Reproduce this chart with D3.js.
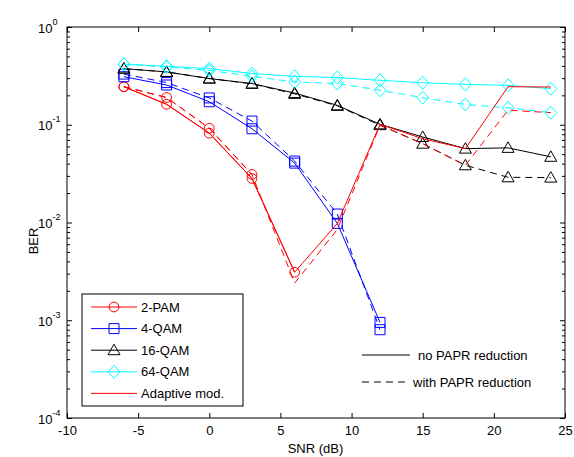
<!DOCTYPE html>
<html>
<head>
<meta charset="utf-8">
<script src="https://cdn.jsdelivr.net/npm/d3@7"></script>
<style>
  body { margin: 0; background: #fff; }
  svg { font-family: "Liberation Sans", Arial, sans-serif; }
</style>
</head>
<body>
<div id="chart"></div>
<script>
// SNR points (dB)
var snr = [-6, -3, 0, 3, 6, 9, 12, 15, 18, 21, 24];

// BER values, solid = no PAPR reduction, dashed = with
var pam2Solid  = [0.245, 0.162, 0.082, 0.0282, 0.0031];
var pam2Dashed = [0.245, 0.19, 0.092, 0.031];
var qam4Solid  = [0.31, 0.255, 0.172, 0.091, 0.0405, 0.0098, 0.00095];
var qam4Dashed = [0.33, 0.27, 0.188, 0.109, 0.0425, 0.0122, 0.0008];
var qam16Solid  = [0.375, 0.347, 0.297, 0.264, 0.211, 0.158, 0.101, 0.075, 0.057, 0.058, 0.047];
var qam16Dashed = [0.375, 0.347, 0.297, 0.262, 0.207, 0.156, 0.099, 0.064, 0.0385, 0.029, 0.0288];
var qam64Solid  = [0.416, 0.396, 0.375, 0.334, 0.313, 0.304, 0.285, 0.269, 0.259, 0.253, 0.234];
var qam64Dashed = [0.416, 0.39, 0.36, 0.313, 0.274, 0.264, 0.225, 0.189, 0.161, 0.149, 0.133];
var adaptSolid  = [0.245, 0.162, 0.082, 0.0282, 0.0031, 0.0098, 0.101, 0.072, 0.057, 0.245, 0.243];
var adaptDashed = [0.245, 0.19, 0.092, 0.031, 0.0024, 0.0085, 0.099, 0.064, 0.0385, 0.141, 0.133];

var xTicks = [-10, -5, 0, 5, 10, 15, 20, 25];
var yTicks = [1e-4, 1e-3, 1e-2, 1e-1, 1];
var yTickExp = ["-4", "-3", "-2", "-1", "0"];

var legendNames = ["2-PAM", "4-QAM", "16-QAM", "64-QAM", "Adaptive mod."];
var styleNames = ["no PAPR reduction", "with PAPR reduction"];

var W = 574, H = 457;
var margin = {top: 27, right: 9, bottom: 39, left: 67};
var width = W - margin.left - margin.right,
    height = H - margin.top - margin.bottom;

var svg = d3.select("#chart").append("svg")
    .attr("width", W).attr("height", H);
var g = svg.append("g")
    .attr("transform", "translate(" + margin.left + "," + margin.top + ")");

var x = d3.scaleLinear().domain([-10, 25]).range([0, width]);
var y = d3.scaleLog().domain([1e-4, 1]).range([height, 0]);

// minor log ticks
var minor = [];
for (var e = -4; e < 0; e++) {
    for (var m = 2; m <= 9; m++) minor.push(m * Math.pow(10, e));
}

// axes (ticks inward, MATLAB style)
var xb = g.append("g").attr("transform", "translate(0," + height + ")")
    .call(d3.axisBottom(x).tickValues(xTicks).tickSizeInner(-5).tickSizeOuter(0).tickPadding(8)
        .tickFormat(function(d) { return String(d); }));
var xt = g.append("g")
    .call(d3.axisTop(x).tickValues(xTicks).tickSizeInner(-5).tickSizeOuter(0).tickFormat(""));
var yl = g.append("g")
    .call(d3.axisLeft(y).tickValues(yTicks).tickSizeInner(-5).tickSizeOuter(0)
        .tickFormat(function() { return "10"; }));
var yr = g.append("g").attr("transform", "translate(" + width + ",0)")
    .call(d3.axisRight(y).tickValues(yTicks).tickSizeInner(-5).tickSizeOuter(0).tickFormat(""));
var ylm = g.append("g")
    .call(d3.axisLeft(y).tickValues(minor).tickSizeInner(-3).tickSizeOuter(0).tickFormat(""));
var yrm = g.append("g").attr("transform", "translate(" + width + ",0)")
    .call(d3.axisRight(y).tickValues(minor).tickSizeInner(-3).tickSizeOuter(0).tickFormat(""));

[xb, xt, yl, yr, ylm, yrm].forEach(function(a) {
    a.select(".domain").remove();
    a.selectAll("line").attr("stroke", "#000").attr("stroke-width", 1);
    a.selectAll("text").attr("fill", "#000").style("font-size", "13px")
        .style("font-family", "'Liberation Sans', Arial, sans-serif");
});

// "10" with a superscript exponent, left part fixed like MATLAB
yl.selectAll(".tick text")
    .attr("text-anchor", "start")
    .attr("x", -29)
    .attr("dy", null)
    .attr("y", 5)
    .each(function(d, i) {
        d3.select(this).append("tspan")
            .attr("dy", -8)
            .style("font-size", "9px")
            .text(yTickExp[i]);
    });

xb.selectAll(".tick text").attr("dy", "0.71em");

// frame
g.append("rect")
    .attr("width", width).attr("height", height)
    .attr("fill", "none").attr("stroke", "#000").attr("stroke-width", 1);

// axis labels
svg.append("text")
    .attr("x", margin.left + width / 2 - 0.5)
    .attr("y", 453)
    .attr("text-anchor", "middle")
    .style("font-size", "13px")
    .text("SNR (dB)");
svg.append("text")
    .attr("transform", "translate(38,241) rotate(-90)")
    .attr("text-anchor", "middle")
    .style("font-size", "13px")
    .text("BER");

var line = d3.line()
    .x(function(d, i) { return x(snr[i]); })
    .y(function(d) { return y(d); });

var plot = g.append("g");

function drawSeries(values, color, dashed, marker) {
    plot.append("path")
        .datum(values)
        .attr("d", line)
        .attr("fill", "none")
        .attr("stroke", color)
        .attr("stroke-width", 1)
        .attr("stroke-dasharray", dashed ? "7,5" : null);
    if (marker) {
        plot.selectAll(null)
            .data(values)
            .enter().append("path")
            .attr("transform", function(d, i) {
                return "translate(" + x(snr[i]) + "," + y(d) + ")";
            })
            .attr("d", marker)
            .attr("fill", "none")
            .attr("stroke", color)
            .attr("stroke-width", 1);
    }
}

var circle = d3.symbol().type(d3.symbolCircle).size(75)();
var square = "M-5,-5H5V5H-5Z";
var triangle = "M0,-6L6,4.5H-6Z";
var diamond = "M0,-6.5L6,0L0,6.5L-6,0Z";

drawSeries(pam2Solid, "#ff0000", false, circle);
drawSeries(pam2Dashed, "#ff0000", true, circle);
drawSeries(qam4Solid, "#0000ff", false, square);
drawSeries(qam4Dashed, "#0000ff", true, square);
drawSeries(qam16Solid, "#000000", false, triangle);
drawSeries(qam16Dashed, "#000000", true, triangle);
drawSeries(qam64Solid, "#00ffff", false, diamond);
drawSeries(qam64Dashed, "#00ffff", true, diamond);
drawSeries(adaptSolid, "#ff0000", false, null);
drawSeries(adaptDashed, "#ff0000", true, null);

// legend box
var legColors = ["#ff0000", "#0000ff", "#000000", "#00ffff", "#ff0000"];
var legMarkers = [circle, square, triangle, diamond, null];
var leg = svg.append("g").attr("transform", "translate(82,294)");
leg.append("rect")
    .attr("width", 161).attr("height", 112)
    .attr("fill", "#fff").attr("stroke", "#000").attr("stroke-width", 1);
legendNames.forEach(function(name, i) {
    var yy = 13 + i * 21.6;
    leg.append("line")
        .attr("x1", 9).attr("x2", 55).attr("y1", yy).attr("y2", yy)
        .attr("stroke", legColors[i]).attr("stroke-width", 1);
    if (legMarkers[i]) {
        leg.append("path")
            .attr("transform", "translate(32," + yy + ")")
            .attr("d", legMarkers[i])
            .attr("fill", "none").attr("stroke", legColors[i]);
    }
    leg.append("text")
        .attr("x", 59).attr("y", yy).attr("dy", "0.36em")
        .style("font-size", "13px")
        .text(name);
});

// line-style legend (no box)
var leg2 = svg.append("g").attr("transform", "translate(362,355)");
styleNames.forEach(function(name, i) {
    var yy = i * 27;
    leg2.append("line")
        .attr("x1", 0).attr("x2", 48).attr("y1", yy).attr("y2", yy)
        .attr("stroke", "#000").attr("stroke-width", 1)
        .attr("stroke-dasharray", i === 1 ? "7,5" : null);
    leg2.append("text")
        .attr("x", i === 0 ? 56 : 51).attr("y", yy).attr("dy", "0.36em")
        .style("font-size", "13px")
        .text(name);
});
</script>
</body>
</html>
